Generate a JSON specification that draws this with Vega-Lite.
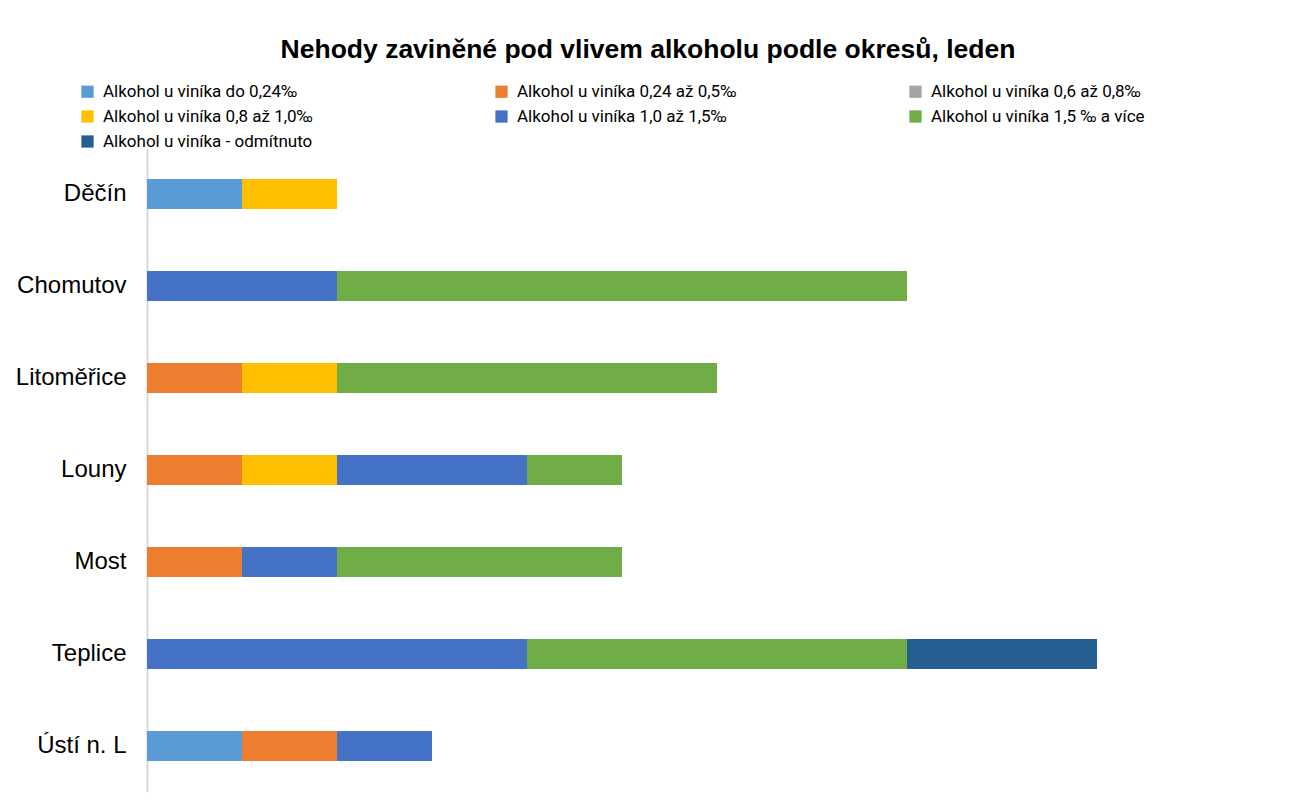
{
  "$schema": "https://vega.github.io/schema/vega-lite/v6.json",
  "width": 1140,
  "height": 644,
  "autosize": {"type": "none"},
  "padding": {"left": 147, "top": 148, "right": 4, "bottom": 18},
  "background": "white",
  "title": {
    "text": "Nehody zaviněné pod vlivem alkoholu  podle okresů, leden",
    "font": "Liberation Sans",
    "fontSize": 26.5,
    "fontWeight": "bold",
    "color": "#000000",
    "anchor": "middle",
    "frame": "group",
    "dx": -69,
    "offset": 20
  },
  "config": {
    "view": {"stroke": null},
    "axis": {"labelFont": "Liberation Sans"}
  },
  "data": {
    "values": [
      {"okres": "Děčín", "kat": "Alkohol u viníka do 0,24‰", "k": 1, "pocet": 1},
      {"okres": "Děčín", "kat": "Alkohol u viníka 0,8 až 1,0‰", "k": 4, "pocet": 1},
      {"okres": "Chomutov", "kat": "Alkohol u viníka 1,0 až 1,5‰", "k": 5, "pocet": 2},
      {"okres": "Chomutov", "kat": "Alkohol u viníka 1,5 ‰ a více", "k": 6, "pocet": 6},
      {"okres": "Litoměřice", "kat": "Alkohol u viníka 0,24 až 0,5‰", "k": 2, "pocet": 1},
      {"okres": "Litoměřice", "kat": "Alkohol u viníka 0,8 až 1,0‰", "k": 4, "pocet": 1},
      {"okres": "Litoměřice", "kat": "Alkohol u viníka 1,5 ‰ a více", "k": 6, "pocet": 4},
      {"okres": "Louny", "kat": "Alkohol u viníka 0,24 až 0,5‰", "k": 2, "pocet": 1},
      {"okres": "Louny", "kat": "Alkohol u viníka 0,8 až 1,0‰", "k": 4, "pocet": 1},
      {"okres": "Louny", "kat": "Alkohol u viníka 1,0 až 1,5‰", "k": 5, "pocet": 2},
      {"okres": "Louny", "kat": "Alkohol u viníka 1,5 ‰ a více", "k": 6, "pocet": 1},
      {"okres": "Most", "kat": "Alkohol u viníka 0,24 až 0,5‰", "k": 2, "pocet": 1},
      {"okres": "Most", "kat": "Alkohol u viníka 1,0 až 1,5‰", "k": 5, "pocet": 1},
      {"okres": "Most", "kat": "Alkohol u viníka 1,5 ‰ a více", "k": 6, "pocet": 3},
      {"okres": "Teplice", "kat": "Alkohol u viníka 1,0 až 1,5‰", "k": 5, "pocet": 4},
      {"okres": "Teplice", "kat": "Alkohol u viníka 1,5 ‰ a více", "k": 6, "pocet": 4},
      {"okres": "Teplice", "kat": "Alkohol u viníka - odmítnuto", "k": 7, "pocet": 2},
      {"okres": "Ústí n. L", "kat": "Alkohol u viníka do 0,24‰", "k": 1, "pocet": 1},
      {"okres": "Ústí n. L", "kat": "Alkohol u viníka 0,24 až 0,5‰", "k": 2, "pocet": 1},
      {"okres": "Ústí n. L", "kat": "Alkohol u viníka 1,0 až 1,5‰", "k": 5, "pocet": 1}
    ]
  },
  "mark": {"type": "bar", "orient": "horizontal"},
  "encoding": {
    "y": {
      "field": "okres",
      "type": "nominal",
      "sort": ["Děčín", "Chomutov", "Litoměřice", "Louny", "Most", "Teplice", "Ústí n. L"],
      "scale": {"paddingInner": 0.674, "paddingOuter": 0.337},
      "axis": {
        "title": null,
        "ticks": false,
        "labelFontSize": 24,
        "labelColor": "#000000",
        "labelPadding": 21,
        "domainColor": "#d9d9d9",
        "domainWidth": 2,
        "grid": false
      }
    },
    "x": {
      "field": "pocet",
      "type": "quantitative",
      "aggregate": "sum",
      "stack": "zero",
      "scale": {"domain": [0, 12], "nice": false},
      "axis": null
    },
    "order": {"field": "k", "type": "quantitative"},
    "color": {
      "field": "kat",
      "type": "nominal",
      "scale": {
        "domain": [
          "Alkohol u viníka do 0,24‰",
          "Alkohol u viníka 0,24 až 0,5‰",
          "Alkohol u viníka 0,6 až 0,8‰",
          "Alkohol u viníka 0,8 až 1,0‰",
          "Alkohol u viníka 1,0 až 1,5‰",
          "Alkohol u viníka 1,5 ‰ a více",
          "Alkohol u viníka - odmítnuto"
        ],
        "range": ["#5b9bd5", "#ed7d31", "#a5a5a5", "#ffc000", "#4472c4", "#70ad47", "#255e91"]
      },
      "legend": {
        "title": null,
        "orient": "none",
        "legendX": -68,
        "legendY": -65,
        "direction": "horizontal",
        "columns": 3,
        "gridAlign": "all",
        "columnPadding": 170,
        "rowPadding": 7,
        "symbolType": "square",
        "symbolSize": 150,
        "symbolStrokeWidth": 0,
        "symbolOpacity": 1,
        "labelFont": "Roboto",
        "labelFontSize": 17,
        "labelColor": "#000000",
        "labelOffset": 7,
        "labelLimit": 400
      }
    }
  }
}
